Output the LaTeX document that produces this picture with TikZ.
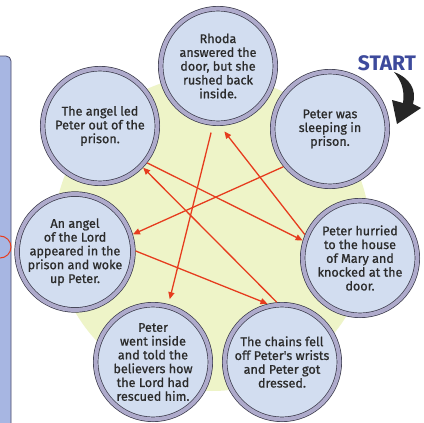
\documentclass[tikz,border=0pt]{standalone}
\usepackage{fontspec}
\newfontfamily\storyfont{Fira Sans}[FakeBold=0.9]
\newfontfamily\startfont{Fira Sans}
\usetikzlibrary{arrows.meta}
\definecolor{greenbg}{HTML}{EEF4C8}
\definecolor{ringdark}{HTML}{3A3A4A}
\definecolor{ringlav}{HTML}{AEAACB}
\definecolor{innerblue}{HTML}{D2DDF0}
\definecolor{textdark}{HTML}{2B2B2B}
\definecolor{arrred}{HTML}{E63C1E}
\definecolor{startblue}{HTML}{3D4A9C}
\definecolor{stripblue}{HTML}{A7B6E2}
\definecolor{stripdark}{HTML}{4A4A6A}
\tikzset{
  story/.style={circle, draw=ringdark, line width=0.7pt, double=ringlav,
    double distance=4pt, fill=innerblue, minimum size=114.6pt, inner sep=0pt,
    outer sep=2.7pt, align=center, text=textdark,
    font=\storyfont\fontsize{12.6}{13.8}\selectfont},
  arr/.style={draw=arrred, line width=1.3pt, -{Triangle[length=7pt,width=6pt]}}
}
\begin{document}
\begin{tikzpicture}[x=1pt,y=-1pt]
\useasboundingbox (0,0) rectangle (424,423);
% background
\fill[white] (0,0) rectangle (424,423);
\fill[greenbg] (212,233) circle (158);
% left strip
\draw[fill=stripblue, draw=stripdark, line width=0.8pt, rounded corners=5pt]
  (-6,430) -- (-6,56) -- (11,56) -- (11,430);
\draw[arrred, line width=1pt] (0,247) circle (11);
% circles
\node[story] (rhoda)  at (218,66)  {Rhoda\\answered the\\door, but she\\rushed back\\inside.};
\node[story] (led)    at (100,126) {The angel led\\Peter out of the\\prison.};
\node[story] (sleep)  at (330,129) {Peter was\\sleeping in\\prison.};
\node[story] (angel)  at (75,252)  {An angel\\of the Lord\\appeared in the\\prison and woke\\up Peter.};
\node[story] (hurry)  at (360,258) {Peter hurried\\to the house\\of Mary and\\knocked at the\\door.};
\node[story] (inside) at (153,362) {Peter\\went inside\\and told the\\believers how\\the Lord had\\rescued him.};
\node[story] (chains) at (282,362) {The chains fell\\off Peter's wrists\\and Peter got\\dressed.};
% arrows
\draw[arr] (sleep.219) -- (angel.17);
\draw[arr] (angel.1) -- (chains.104);
\draw[arr] (chains.95) -- (led.316);
\draw[arr] (led.322) -- (hurry.163);
\draw[arr, shorten >=7pt] (hurry.157) -- (rhoda.272);
\draw[arr, shorten <=7pt, shorten >=5pt] (rhoda.265) -- (inside.75);
% start
\node[text=startblue, font=\startfont\bfseries\fontsize{21}{21}\selectfont] (start) at (387,63) {START};
\fill[black!85] (394,72) .. controls (410,78) and (417,90) .. (413,104) -- (421,108) -- (397,124)
  -- (392,100) -- (403,103) .. controls (405,90) and (401,80) .. (394,72) -- cycle;
\end{tikzpicture}
\end{document}
